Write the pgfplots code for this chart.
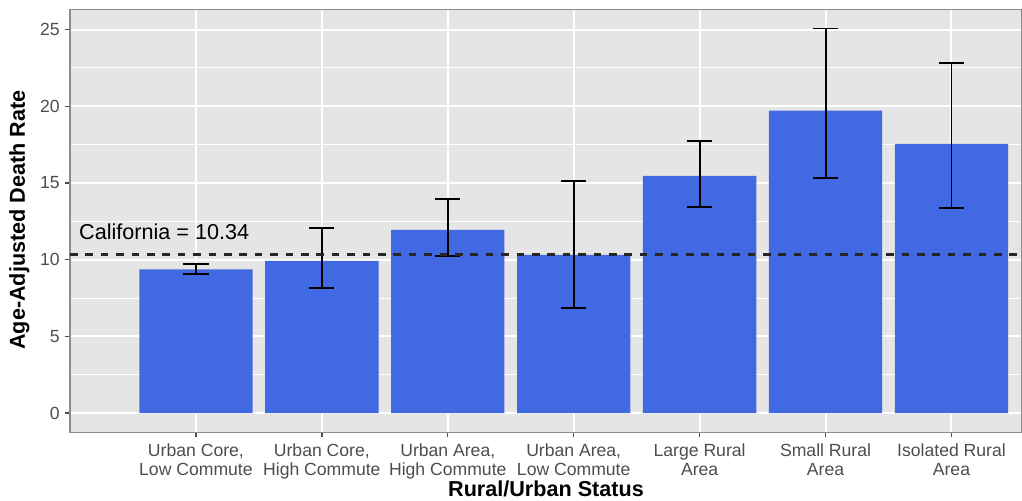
\documentclass[border=0pt]{standalone}
\usepackage{fontspec}
\setmainfont{Liberation Sans}
\usepackage{pgfplots}
\pgfplotsset{compat=1.18}
\usepackage{pgfplotstable}

\definecolor{royal}{HTML}{4169E1}
\definecolor{panel}{HTML}{E5E5E5}
\definecolor{tickgray}{HTML}{4D4D4D}
\definecolor{bordergray}{HTML}{8C8C8C}
\definecolor{hline}{HTML}{262626}

% rate, error above, error below
\pgfplotstableread{
x y ep em
1 9.37 0.36 0.33
2 9.93 2.11 1.78
3 11.95 1.99 1.72
4 10.32 4.80 3.47
5 15.46 2.28 2.04
6 19.71 5.36 4.38
7 17.54 5.30 4.16
}\rates

\begin{document}
\begin{tikzpicture}
\begin{axis}[
    at={(35pt,34.35pt)}, anchor=south west,
    scale only axis,
    width=476pt, height=211.5pt,
    xmin=0, xmax=7.56,
    ymin=-1.25, ymax=26.32,
    xtick={1,...,7},
    xticklabels={{Urban Core,\\Low Commute},{Urban Core,\\High Commute},
      {Urban Area,\\High Commute},{Urban Area,\\Low Commute},
      {Large Rural\\Area},{Small Rural\\Area},{Isolated Rural\\Area}},
    ytick={0,5,...,25},
    minor ytick={2.5,7.5,...,22.5},
    minor tick length=0pt,
    xmajorgrids, ymajorgrids, yminorgrids,
    major grid style={white, line width=1pt},
    minor grid style={white, line width=0.5pt},
    axis background/.style={fill=panel},
    axis line style={draw=bordergray, line width=0.7pt},
    tick pos=left,
    tick align=outside,
    major tick length=2.5pt,
    tick style={draw=tickgray, line width=0.7pt},
    /pgf/number format/assume math mode=true,
    ticklabel style={font=\fontsize{8.8}{9.6}\selectfont, text=tickgray, inner sep=0pt},
    xticklabel style={align=center, anchor=north, yshift=-2.8pt},
    yticklabel style={anchor=east, xshift=-2.5pt},
  ]
  \addplot[ybar, bar width=0.9, bar shift=0pt, fill=royal, draw=none,
    error bars/.cd, y dir=both, y explicit,
    error bar style={black, line width=0.95pt},
    error mark options={rotate=90, black, line width=0.95pt, mark size=6.3pt}]
    table[x=x, y=y, y error plus=ep, y error minus=em] {\rates};
  \addplot[hline, line width=1.05pt, dash pattern=on 3.8pt off 3.9pt]
    coordinates {(0,10.34) (7.56,10.34)};
  \node[anchor=base west, inner sep=0pt, font=\fontsize{10.8}{13}\selectfont]
    at (axis cs:0.07,11.32) {California = 10.34};
\end{axis}
\pgfresetboundingbox
\path[use as bounding box] (0,0) rectangle (511pt,250.5pt);
\node[rotate=90, anchor=base, inner sep=0pt, font=\bfseries\fontsize{10.8}{13}\selectfont]
  at (12.5pt,140.5pt) {Age-Adjusted Death Rate};
\node[anchor=base, inner sep=0pt, font=\bfseries\fontsize{10.8}{13}\selectfont]
  at (273pt,2.2pt) {Rural/Urban Status};
\end{tikzpicture}
\end{document}
